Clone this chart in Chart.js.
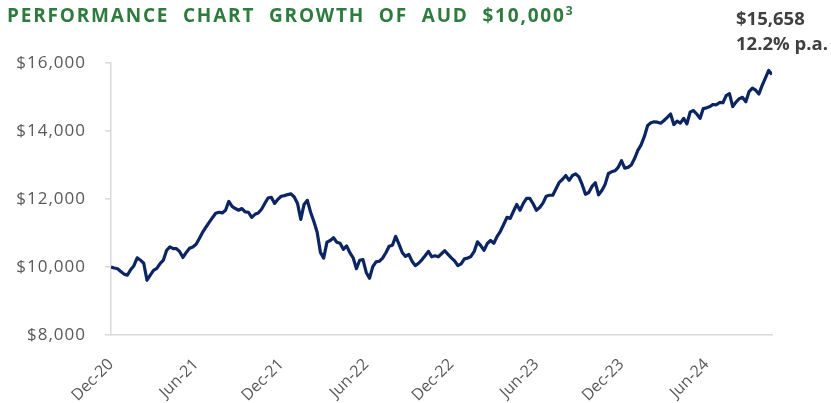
<!DOCTYPE html>
<html>
<head>
<meta charset="utf-8">
<script src="https://cdn.jsdelivr.net/npm/chart.js@4.4.1/dist/chart.umd.min.js"></script>
<style>
  html, body { margin: 0; padding: 0; background: #fff; }
  #wrap { position: relative; width: 831px; height: 403px; overflow: hidden; }
  #c { position: absolute; left: 0; top: 0; }
  #title { position: absolute; left: 7px; top: 2px; font-family: "Open Sans", sans-serif; font-weight: 700;
           font-size: 19px; color: #2E7B3E; letter-spacing: 1.8px; word-spacing: 7px; white-space: nowrap; line-height: 26px; }
  #title sup { font-size: 12px; vertical-align: 0; position: relative; top: -7px; letter-spacing: 0; }
  #note { position: absolute; left: 736px; top: 5px; font-family: "Open Sans", sans-serif; font-weight: 700;
          font-size: 18.5px; color: #404040; line-height: 25px; white-space: nowrap; }
</style>
</head>
<body>
<div id="wrap">
  <canvas id="c" width="831" height="403"></canvas>
  <div id="title">PERFORMANCE CHART GROWTH OF AUD $10,000<sup>3</sup></div>
  <div id="note">$15,658<br>12.2% p.a.</div>
</div>
<script>
// Weekly value of a $10,000 investment, starting Dec 2020
const values = [
  10000, 9970, 9950, 9870, 9790, 9760, 9920, 10040, 10270, 10200,
  10110, 9610, 9760, 9900, 9960, 10100, 10200, 10490, 10590, 10540,
  10540, 10450, 10280, 10430, 10550, 10590, 10670, 10840, 11020, 11170,
  11310, 11450, 11580, 11610, 11590, 11670, 11930, 11780, 11720, 11670,
  11720, 11620, 11610, 11460, 11550, 11590, 11700, 11870, 12030, 12050,
  11870, 11990, 12080, 12100, 12130, 12150, 12060, 11870, 11400, 11840,
  11960, 11610, 11340, 11020, 10430, 10260, 10730, 10780, 10860, 10730,
  10700, 10520, 10620, 10420, 10270, 9950, 10200, 10220, 9840, 9670,
  10010, 10150, 10170, 10260, 10420, 10610, 10640, 10900, 10670, 10430,
  10310, 10370, 10170, 10040, 10110, 10210, 10330, 10460, 10300, 10330,
  10300, 10390, 10480, 10370, 10270, 10180, 10040, 10090, 10240, 10260,
  10310, 10460, 10740, 10630, 10490, 10690, 10780, 10700, 10900, 11050,
  11250, 11460, 11430, 11640, 11840, 11670, 11870, 12020, 12020, 11860,
  11670, 11750, 11880, 12080, 12110, 12110, 12300, 12490, 12580, 12690,
  12550, 12690, 12740, 12650, 12420, 12140, 12190, 12370, 12480, 12120,
  12250, 12430, 12750, 12800, 12830, 12930, 13130, 12910, 12930, 13000,
  13190, 13430, 13590, 13840, 14160, 14240, 14270, 14260, 14230, 14310,
  14400, 14500, 14190, 14290, 14230, 14370, 14210, 14560, 14600, 14500,
  14370, 14660, 14680, 14720, 14780, 14770, 14840, 14830, 15040, 15100,
  14720, 14850, 14950, 14990, 14860, 15160, 15260, 15200, 15090, 15340,
  15560, 15780, 15658
];
// x-axis tick labels and the week index at which each falls
const tickLabels = ['Dec-20', 'Jun-21', 'Dec-21', 'Jun-22', 'Dec-22', 'Jun-23', 'Dec-23', 'Jun-24'];
const tickWeeks  = [0, 26, 52, 78, 104, 130, 156, 182];
// y-axis range
const yMin = 8000, yMax = 16000, yStep = 2000;

const points = values.map((v, i) => ({ x: i, y: v }));

new Chart(document.getElementById('c'), {
  type: 'line',
  data: {
    datasets: [{
      data: points,
      borderColor: '#0B2563',
      borderWidth: 3.2,
      pointRadius: 0,
      tension: 0,
      borderJoinStyle: 'round',
      fill: false
    }]
  },
  options: {
    responsive: false,
    animation: false,
    events: [],
    layout: { padding: { left: 0, top: 63, right: 59, bottom: 0 } },
    plugins: { legend: { display: false }, tooltip: { enabled: false }, title: { display: false } },
    scales: {
      x: {
        type: 'linear',
        min: 0,
        max: values.length - 1,
        grid: { display: false, drawTicks: false },
        border: { display: true, color: '#D9D9D9', width: 1.5 },
        afterBuildTicks(scale) { scale.ticks = tickWeeks.map(v => ({ value: v })); },
        afterFit(scale) { scale.height = 68; },
        ticks: {
          autoSkip: false,
          minRotation: 45,
          maxRotation: 45,
          padding: 20,
          color: '#595959',
          font: { family: 'Open Sans', size: 16 },
          callback: (v, i) => tickLabels[i]
        }
      },
      y: {
        min: yMin,
        max: yMax,
        grid: { display: true, drawOnChartArea: false, drawTicks: true, tickLength: 6, color: '#D9D9D9', lineWidth: 1.5 },
        border: { display: true, color: '#D9D9D9', width: 1.5 },
        afterFit(scale) {
          scale.width = 111;
          if (!scale._spaced) {
            const orig = scale.drawLabels.bind(scale);
            scale.drawLabels = (area) => {
              const c = scale.ctx;
              c.save();
              c.letterSpacing = '1px';
              orig(area);
              c.restore();
            };
            scale._spaced = true;
          }
        },
        ticks: {
          stepSize: yStep,
          padding: 19,
          color: '#595959',
          font: { family: 'Open Sans', size: 17 },
          callback: v => '$' + v.toLocaleString('en-US')
        }
      }
    }
  }
});
</script>
</body>
</html>
